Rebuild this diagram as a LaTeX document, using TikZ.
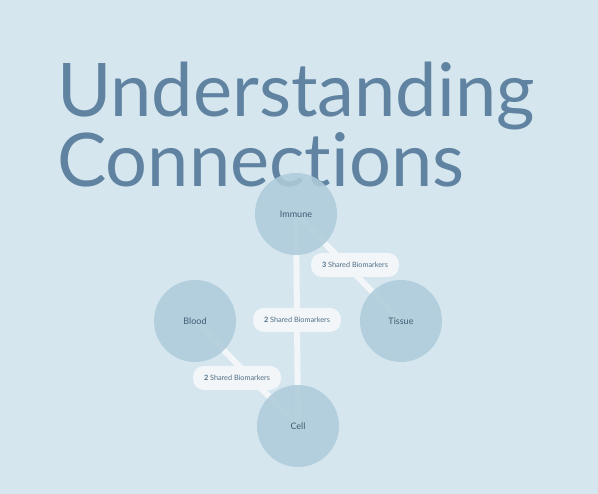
\documentclass[tikz,border=0pt]{standalone}
\usepackage{fontspec}
\setmainfont{Lato}[Ligatures={NoCommon,NoDiscretionary}]
\begin{document}
\begin{tikzpicture}[x=1pt,y=1pt,
  bubble/.style={circle,minimum size=82pt,inner sep=0pt,fill=circfill,fill opacity=0.88,text opacity=1,text=nodetext,font=\fontsize{9}{10}\selectfont},
  link/.style={draw=linkcol,line width=6pt},
  pill/.style={rounded corners=11pt,fill=pillfill,minimum width=88pt,minimum height=24pt,inner sep=0pt,text=pilltext,font=\fontsize{7.3}{8}\selectfont},
  titletext/.style={anchor=base west,inner sep=0pt,text=titlecol,font=\fontsize{74}{80}\selectfont}]
\definecolor{bg}{HTML}{D5E6EF}
\definecolor{circfill}{HTML}{AFCBDB}
\definecolor{linkcol}{HTML}{F2F6F9}
\definecolor{pillfill}{HTML}{F3F6F8}
\definecolor{pilltext}{HTML}{4F6F88}
\definecolor{nodetext}{HTML}{3F5C72}
\definecolor{titlecol}{HTML}{5F83A0}
\fill[bg] (0,0) rectangle (598,494);
\useasboundingbox (0,0) rectangle (598,494);
\node[titletext] (t1) at (57,377) {Understanding};
\node[titletext] (t2) at (57,307) {Connections};
\coordinate (pi) at (296,280);
\coordinate (pb) at (195,173);
\coordinate (pt) at (401,173);
\coordinate (pc) at (298,68);
\draw[link] (pi) -- (pc);
\draw[link] (pi) -- (pt);
\draw[link] (pb) -- (pc);
\node[bubble] (immune) at (pi) {Immune};
\node[bubble] (blood) at (pb) {Blood};
\node[bubble] (tissue) at (pt) {Tissue};
\node[bubble] (cell) at (pc) {Cell};
\node[pill] (l1) at (355,229) {\textbf{3} Shared Biomarkers};
\node[pill] (l2) at (297,174) {\textbf{2} Shared Biomarkers};
\node[pill] (l3) at (237,116) {\textbf{2} Shared Biomarkers};
\end{tikzpicture}
\end{document}
